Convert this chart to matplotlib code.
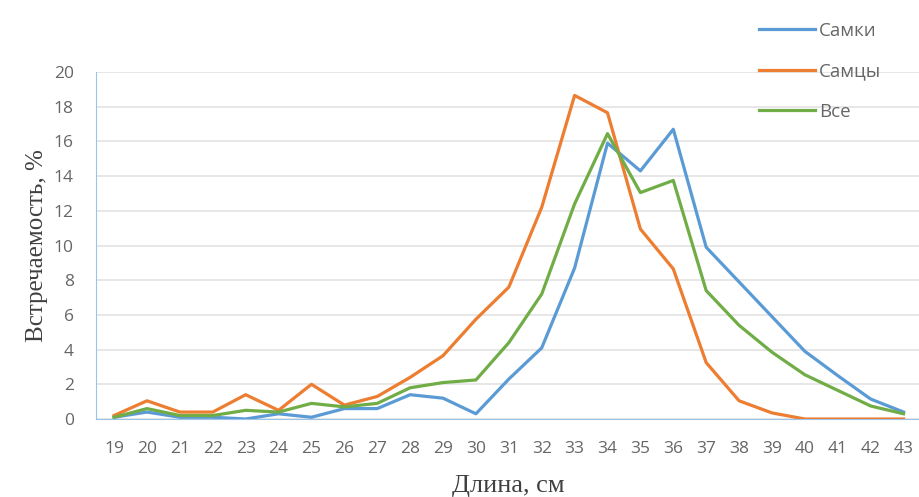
import matplotlib.pyplot as plt

lengths = list(range(19, 44))
females = [0.1, 0.4, 0.1, 0.1, 0.0, 0.3, 0.1, 0.6, 0.6, 1.4, 1.2, 0.3, 2.3,
           4.1, 8.7, 15.9, 14.3, 16.7, 9.9, 7.9, 5.9, 3.9, 2.5, 1.15, 0.4]
males = [0.2, 1.05, 0.4, 0.4, 1.4, 0.5, 2.0, 0.8, 1.3, 2.4, 3.65, 5.75, 7.6,
         12.2, 18.65, 17.65, 10.95, 8.65, 3.25, 1.05, 0.35, 0.0, 0.0, 0.0, 0.0]
total = [0.1, 0.6, 0.2, 0.2, 0.5, 0.4, 0.9, 0.7, 0.9, 1.8, 2.1, 2.25, 4.4,
         7.2, 12.4, 16.45, 13.05, 13.75, 7.4, 5.4, 3.85, 2.55, 1.65, 0.75, 0.3]

plt.rcParams["font.family"] = ["Open Sans", "DejaVu Sans"]

fig = plt.figure(figsize=(9.2, 4.97), dpi=100)
ax = fig.add_axes([96 / 920, 1 - 419 / 497, 1 - 96 / 920, (419 - 72) / 497])

ax.plot(lengths, females, color="#5B9BD5", lw=2.3, label="Самки")
ax.plot(lengths, males, color="#ED7D31", lw=2.3, label="Самцы")
ax.plot(lengths, total, color="#70AD47", lw=2.3, label="Все")

ax.set_xlim(18.45, 43.5)
ax.set_ylim(0, 20)
ax.set_yticks(range(0, 21, 2))
ax.set_xticks(lengths)
ax.grid(axis="y", color="#E3E3E3", lw=1.2)
ax.set_axisbelow(True)
for s in ("top", "right"):
    ax.spines[s].set_visible(False)
ax.spines["left"].set_color("#9DC3E6")
ax.spines["bottom"].set_color("#9DC3E6")
ax.tick_params(length=0, colors="#666666", labelsize=12.5, pad=16)
ax.tick_params(axis="y", pad=16)

serif = ["Liberation Serif", "DejaVu Serif"]
ax.set_xlabel("Длина, см", family=serif, fontsize=19, color="#404040", labelpad=13)
ax.set_ylabel("Встречаемость, %", family=serif, fontsize=18, color="#404040", labelpad=4)

fig.legend(loc="upper left", bbox_to_anchor=(742 / 920, 1 - 5 / 497),
           frameon=False, fontsize=13.5, labelcolor="#666666", handlelength=3.0,
           handletextpad=0.2, labelspacing=1.2)

fig.savefig("out.png", dpi=100)
